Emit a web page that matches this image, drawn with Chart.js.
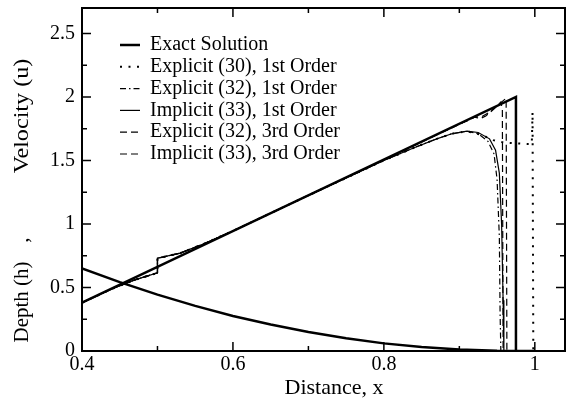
<!DOCTYPE html>
<html>
<head>
<meta charset="utf-8">
<script src="https://cdn.jsdelivr.net/npm/chart.js@4"></script>
<style>
  html, body { margin: 0; padding: 0; background: #fff; }
  canvas { display: block; }
</style>
</head>
<body>
<canvas id="chart" width="568" height="409"></canvas>
<script>
// axis ticks
const xTickLabels = [0.4, 0.6, 0.8, 1];
const xMinorTicks = [0.5, 0.7, 0.9];
const yTickLabels = [0, 0.5, 1, 1.5, 2, 2.5];
const yMinorTicks = [0.25, 0.75, 1.25, 1.75, 2.25];

// exact solution
const exactVelX = [0.4, 0.975, 0.975];
const exactVelY = [0.38, 2.0, 0];
const exactDepthX = [0.40, 0.45, 0.50, 0.55, 0.60, 0.65, 0.70, 0.75, 0.80, 0.85, 0.90, 0.95, 0.975, 1.0];
const exactDepthY = [0.650, 0.542, 0.444, 0.355, 0.276, 0.208, 0.149, 0.100, 0.060, 0.031, 0.011, 0.001, 0, 0];

// explicit (30), 1st order
const expl30X = [0.40, 0.44, 0.47, 0.50, 0.50, 0.53, 0.56, 0.60, 0.70, 0.80, 0.84, 0.87, 0.89, 0.91, 0.93, 0.945, 0.96, 0.975, 0.99, 0.996, 0.997, 0.998];
const expl30Y = [0.38, 0.49, 0.56, 0.615, 0.73, 0.77, 0.84, 0.945, 1.225, 1.50, 1.60, 1.67, 1.71, 1.73, 1.70, 1.66, 1.64, 1.635, 1.63, 1.63, 1.88, 0];

// explicit (32), 1st order
const expl32aX = [0.40, 0.44, 0.47, 0.50, 0.50, 0.53, 0.56, 0.60, 0.70, 0.80, 0.84, 0.87, 0.89, 0.91, 0.925, 0.938, 0.946, 0.950, 0.953, 0.954, 0.955];
const expl32aY = [0.38, 0.49, 0.56, 0.615, 0.73, 0.77, 0.84, 0.945, 1.225, 1.50, 1.60, 1.67, 1.71, 1.73, 1.71, 1.65, 1.55, 1.35, 0.90, 0.30, 0];

// implicit (33), 1st order
const impl33aX = [0.40, 0.44, 0.47, 0.50, 0.50, 0.53, 0.56, 0.60, 0.70, 0.80, 0.84, 0.87, 0.89, 0.91, 0.925, 0.94, 0.948, 0.953, 0.956, 0.958, 0.959];
const impl33aY = [0.38, 0.49, 0.56, 0.615, 0.73, 0.77, 0.84, 0.945, 1.225, 1.50, 1.60, 1.67, 1.71, 1.73, 1.72, 1.67, 1.58, 1.40, 1.00, 0.40, 0];

// explicit (32), 3rd order
const expl32cX = [0.40, 0.44, 0.47, 0.50, 0.50, 0.53, 0.56, 0.60, 0.70, 0.80, 0.88, 0.92, 0.928, 0.935, 0.945, 0.955, 0.957, 0.958];
const expl32cY = [0.38, 0.49, 0.56, 0.615, 0.73, 0.77, 0.84, 0.945, 1.225, 1.505, 1.73, 1.84, 1.83, 1.85, 1.90, 1.96, 1.90, 0];

// implicit (33), 3rd order
const impl33cX = [0.40, 0.44, 0.47, 0.50, 0.50, 0.53, 0.56, 0.60, 0.70, 0.80, 0.88, 0.92, 0.93, 0.94, 0.95, 0.962, 0.963];
const impl33cY = [0.38, 0.49, 0.56, 0.615, 0.73, 0.77, 0.84, 0.945, 1.225, 1.505, 1.73, 1.84, 1.845, 1.88, 1.93, 1.99, 0];

const legendLabels = ['Exact Solution', 'Explicit (30), 1st Order', 'Explicit (32), 1st Order',
    'Implicit (33), 1st Order', 'Explicit (32), 3rd Order', 'Implicit (33), 3rd Order'];

const serif = "'Liberation Serif', 'Times New Roman', serif";

function pts(xs, ys) {
    return xs.map((x, i) => ({ x: x, y: ys[i] }));
}

function line(label, xs, ys, width, dash) {
    return {
        label: label,
        data: pts(xs, ys),
        showLine: true,
        borderColor: '#000',
        backgroundColor: '#000',
        borderWidth: width,
        borderDash: dash,
        pointRadius: 0,
        tension: 0,
    };
}

const styles = [
    { width: 2.5, dash: [] },
    { width: 2, dash: [2, 6.5] },
    { width: 1.2, dash: [6, 3, 1.5, 3] },
    { width: 1.2, dash: [] },
    { width: 1.2, dash: [7, 4] },
    { width: 1.2, dash: [7, 4] },
];

const datasets = [
    line(legendLabels[0], exactVelX, exactVelY, styles[0].width, styles[0].dash),
    line('depth', exactDepthX, exactDepthY, styles[0].width, styles[0].dash),
    line(legendLabels[1], expl30X, expl30Y, styles[1].width, styles[1].dash),
    line(legendLabels[2], expl32aX, expl32aY, styles[2].width, styles[2].dash),
    line(legendLabels[3], impl33aX, impl33aY, styles[3].width, styles[3].dash),
    line(legendLabels[4], expl32cX, expl32cY, styles[4].width, styles[4].dash),
    line(legendLabels[5], impl33cX, impl33cY, styles[5].width, styles[5].dash),
];

// frame, inward ticks, legend and axis titles
const framePlugin = {
    id: 'frame',
    afterDraw(chart) {
        const { ctx, chartArea: a, scales: { x, y } } = chart;
        ctx.save();
        ctx.strokeStyle = '#000';
        ctx.fillStyle = '#000';
        ctx.setLineDash([]);
        ctx.lineWidth = 1.5;
        ctx.beginPath();
        const xt = (v, len) => {
            const p = x.getPixelForValue(v);
            ctx.moveTo(p, a.bottom); ctx.lineTo(p, a.bottom - len);
            ctx.moveTo(p, a.top); ctx.lineTo(p, a.top + len);
        };
        const yt = (v, len) => {
            const p = y.getPixelForValue(v);
            ctx.moveTo(a.left, p); ctx.lineTo(a.left + len, p);
            ctx.moveTo(a.right, p); ctx.lineTo(a.right - len, p);
        };
        xTickLabels.forEach(v => xt(v, 9));
        xMinorTicks.forEach(v => xt(v, 5));
        yTickLabels.forEach(v => yt(v, 9));
        yMinorTicks.forEach(v => yt(v, 5));
        ctx.stroke();
        ctx.lineWidth = 2;
        ctx.strokeRect(a.left, a.top, a.right - a.left, a.bottom - a.top);

        // legend
        ctx.font = '20px ' + serif;
        ctx.textBaseline = 'middle';
        ctx.textAlign = 'left';
        legendLabels.forEach((lab, i) => {
            const ly = 45 + i * 21.8;
            ctx.lineWidth = styles[i].width;
            ctx.setLineDash(styles[i].dash);
            ctx.beginPath();
            ctx.moveTo(120, ly);
            ctx.lineTo(140, ly);
            ctx.stroke();
            ctx.fillText(lab, 150, ly);
        });
        ctx.setLineDash([]);

        // axis titles
        ctx.textAlign = 'center';
        ctx.font = '22px ' + serif;
        ctx.fillText('Distance, x', 334, 388);
        ctx.font = '21px ' + serif;
        ctx.translate(22, 0);
        ctx.rotate(-Math.PI / 2);
        ctx.fillText('Depth (h)', -302, 0);
        ctx.fillText(',', -240, 0);
        ctx.scale(1.15, 1);
        ctx.fillText('Velocity (u)', -116 / 1.15, 0);
        ctx.restore();
    }
};

new Chart(document.getElementById('chart'), {
    type: 'scatter',
    data: { datasets: datasets },
    options: {
        responsive: false,
        animation: false,
        devicePixelRatio: 1,
        layout: { padding: { left: 0, right: 3, top: 8, bottom: 0 } },
        plugins: {
            legend: { display: false },
            tooltip: { enabled: false },
        },
        scales: {
            x: {
                type: 'linear',
                min: 0.4,
                max: 1.04,
                border: { display: false },
                grid: { display: false, drawTicks: false },
                afterBuildTicks: s => { s.ticks = xTickLabels.map(v => ({ value: v })); },
                afterFit: s => { s.height = 58; s.paddingLeft = 0; s.paddingRight = 0; },
                ticks: {
                    color: '#000',
                    padding: 2,
                    maxRotation: 0,
                    font: { family: serif, size: 20 },
                    callback: v => String(Math.round(v * 10) / 10),
                },
            },
            y: {
                type: 'linear',
                min: 0,
                max: 2.7,
                border: { display: false },
                grid: { display: false, drawTicks: false },
                afterBuildTicks: s => { s.ticks = yTickLabels.map(v => ({ value: v })); },
                afterFit: s => { s.width = 82; s.paddingTop = 0; s.paddingBottom = 0; },
                ticks: {
                    color: '#000',
                    padding: 7,
                    font: { family: serif, size: 20 },
                    callback: v => String(Math.round(v * 10) / 10),
                },
            },
        },
    },
    plugins: [framePlugin],
});
</script>
</body>
</html>
